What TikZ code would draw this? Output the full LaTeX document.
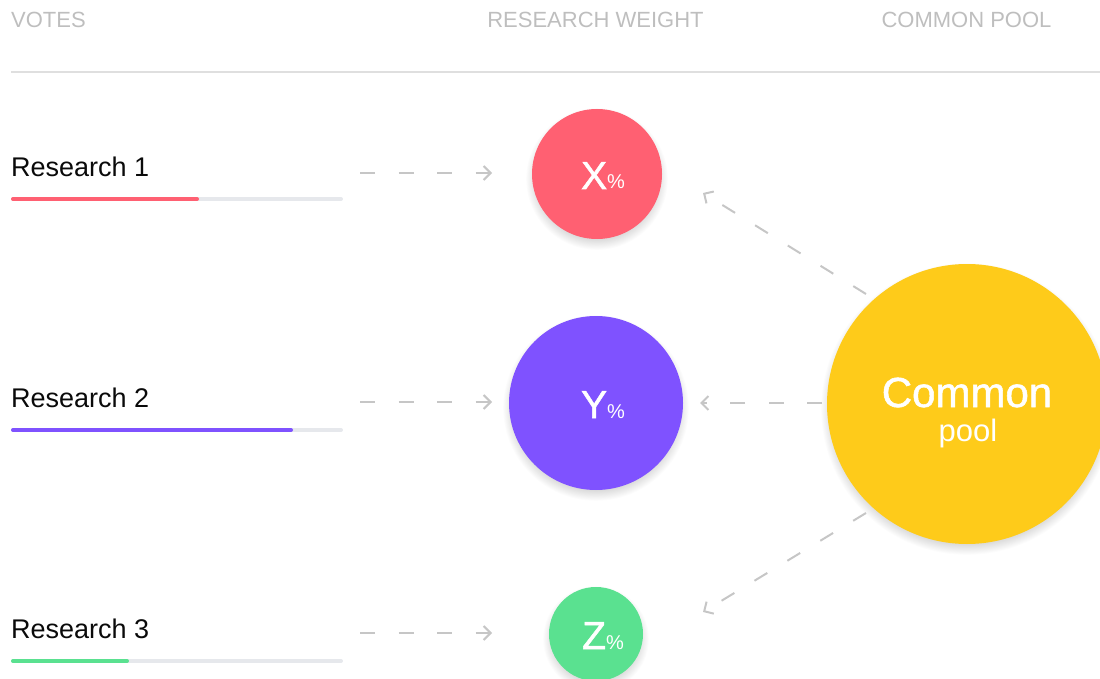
\documentclass[tikz,border=0pt]{standalone}
\usepackage{fontspec}
\setmainfont{Liberation Sans}
\newfontfamily\medfont[FakeBold=1.3]{Liberation Sans}
\usetikzlibrary{arrows.meta,backgrounds}
\definecolor{cx}{HTML}{FF6072}
\definecolor{cy}{HTML}{7F52FF}
\definecolor{cz}{HTML}{5AE190}
\definecolor{cpool}{HTML}{FECB1A}
\definecolor{hdr}{HTML}{BEBEBE}
\definecolor{rulegray}{HTML}{DFDFDF}
\definecolor{bargray}{HTML}{E6E8EC}
\definecolor{arrgray}{HTML}{C6C6C6}
\definecolor{txt}{HTML}{0A0A0A}
\newcommand{\myfs}[1]{\fontsize{#1}{#1}\selectfont}
\newcommand{\softshadow}[2]{%
  \foreach \k in {1,...,12}{%
    \fill[black,opacity=0.012] ([yshift=-5pt]#1.center) circle ({#2+0.9*\k-5});}}
\begin{document}
\begin{tikzpicture}[x=1pt,y=-1pt,
  header/.style={inner sep=0pt,text=hdr,font=\myfs{22}},
  reslabel/.style={inner sep=0pt,anchor=base west,text=txt,font=\myfs{27}},
  bar/.style={line width=4pt,line cap=round,draw=bargray},
  ball/.style={circle,inner sep=0pt,draw=none},
  balltext/.style={inner sep=0pt,anchor=base,text=white},
  arr/.style={draw=arrgray,line width=2pt,dash pattern=on 15pt off 23.5pt,
    -{Straight Barb[length=7pt,width=14pt,line width=2pt]}}]
\useasboundingbox (0,0) rectangle (1100,679);
\clip (0,0) rectangle (1100,679);
% header
\node[header,anchor=base west] (hvotes) at (11,28) {VOTES};
\node[header,anchor=base] (hweight) at (595.5,28) {RESEARCH WEIGHT};
\node[header,anchor=base] (hpool) at (966.5,28) {COMMON POOL};
\draw[rulegray,line width=2pt] (11,72) -- (1100,72);
% research labels and bars
\node[reslabel] (r1) at (11,177) {Research 1};
\node[reslabel] (r2) at (11,407) {Research 2};
\node[reslabel] (r3) at (11,638) {Research 3};
\draw[bar] (13,199) -- (341,199);
\draw[bar,draw=cx] (13,199) -- (197,199);
\draw[bar] (13,430) -- (341,430);
\draw[bar,draw=cy] (13,430) -- (291,430);
\draw[bar] (13,661) -- (341,661);
\draw[bar,draw=cz] (13,661) -- (127,661);
% circles
\node[ball,fill=cx,minimum size=130pt] (xc) at (597,174) {};
\node[ball,fill=cy,minimum size=174pt] (yc) at (596,403) {};
\node[ball,fill=cz,minimum size=94pt] (zc) at (596,634) {};
\node[ball,fill=cpool,minimum size=280pt] (pool) at (967,404) {};
\begin{pgfonlayer}{background}
  \softshadow{xc}{65}
  \softshadow{yc}{87}
  \softshadow{zc}{47}
  \softshadow{pool}{140}
\end{pgfonlayer}
% circle texts
\node[balltext] (xt) at ([shift={(6,15)}]xc.center) {{\medfont\myfs{39}X}{\myfs{20}\%}};
\node[balltext] (yt) at ([shift={(7,15)}]yc.center) {{\medfont\myfs{39}Y}{\myfs{20}\%}};
\node[balltext] (zt) at ([shift={(7,15)}]zc.center) {{\medfont\myfs{39}Z}{\myfs{20}\%}};
\node[balltext,font=\medfont\myfs{42}] (pt1) at ([shift={(0,3)}]pool.center) {Common};
\node[balltext,font=\myfs{31}] (pt2) at ([shift={(1,37)}]pool.center) {pool};
% arrows from votes to weights
\coordinate (s1) at (360,173);
\coordinate (s2) at (360,402);
\coordinate (s3) at (360,633);
\draw[arr] (s1) -- ([shift={(-105,-1)}]xc.center);
\draw[arr] (s2) -- ([shift={(-104,-1)}]yc.center);
\draw[arr] (s3) -- ([shift={(-104,-1)}]zc.center);
% arrows from pool
\draw[arr] ([shift={(-101,-110)}]pool.center) -- ([shift={(106,19)}]xc.center);
\draw[arr] ([shift={(-145,-1)}]pool.center) -- ([shift={(104,0)}]yc.center);
\draw[arr] ([shift={(-101,109)}]pool.center) -- ([shift={(107,-22)}]zc.center);
\end{tikzpicture}
\end{document}
